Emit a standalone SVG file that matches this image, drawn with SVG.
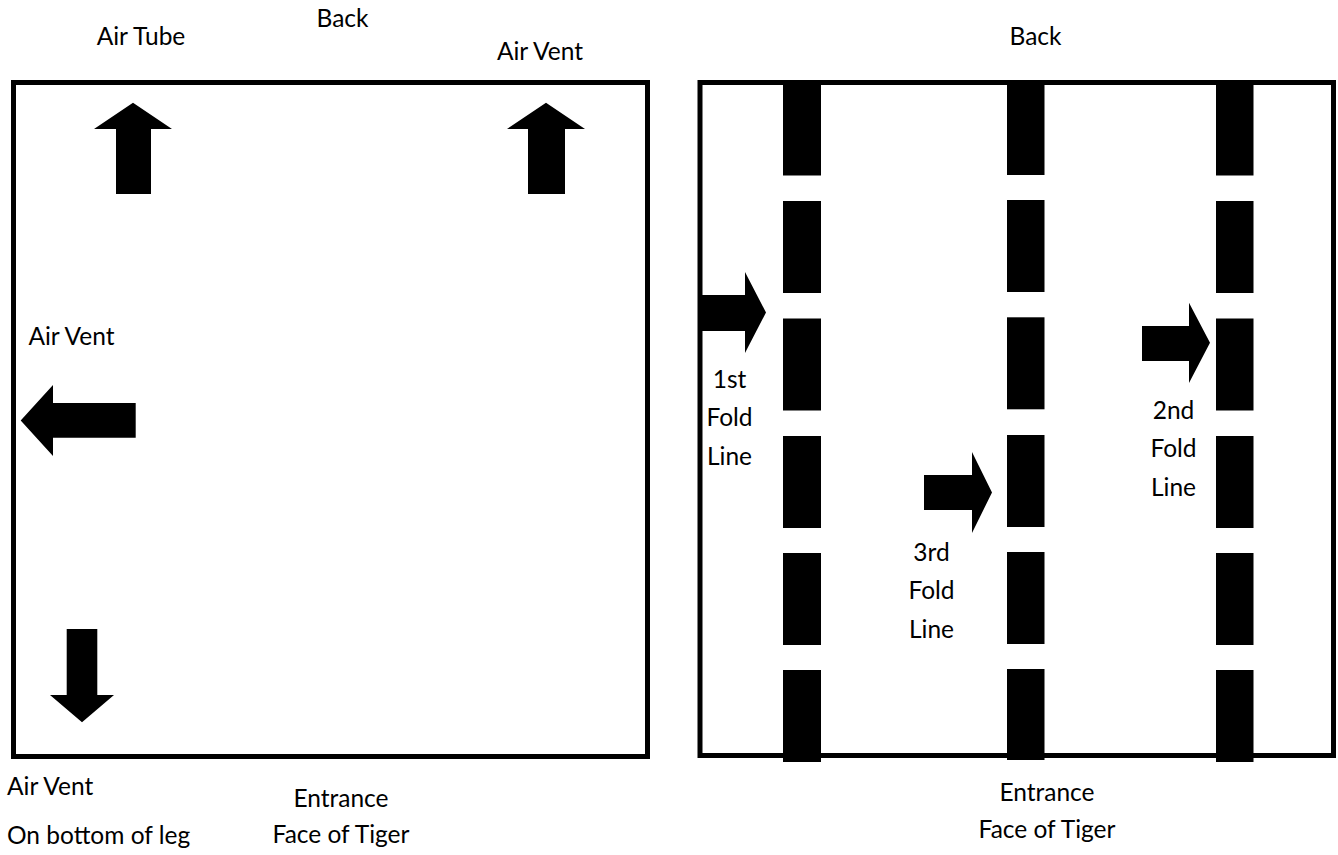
<svg xmlns="http://www.w3.org/2000/svg" width="1338" height="855" viewBox="0 0 1338 855">
<style>
.box{fill:none;stroke:#000;stroke-width:5}
.blk{fill:#000}
text{font-family:Lato,"Liberation Sans",sans-serif;font-size:24.5px;fill:#000}
.c{text-anchor:middle}
</style>
<rect width="1338" height="855" fill="#fff"/>
<g id="left-panel">
<rect class="box" x="13.5" y="82.5" width="634" height="674"/>
<text class="c" x="342.5" y="27">Back</text>
<text class="c" x="141" y="45">Air Tube</text>
<text class="c" x="540" y="60">Air Vent</text>
<text class="c" x="71.5" y="345">Air Vent</text>
<text x="7" y="795">Air Vent</text>
<text x="7" y="844">On bottom of leg</text>
<text class="c" x="341" y="807">Entrance</text>
<text class="c" x="341" y="843">Face of Tiger</text>
</g>
<g id="right-panel">
<rect class="box" x="700" y="82.5" width="633.5" height="673"/>
<text class="c" x="1035.5" y="45">Back</text>
<text class="c" x="1047" y="801">Entrance</text>
<text class="c" x="1047" y="838">Face of Tiger</text>
<text class="c" x="729.5" y="388">1st</text>
<text class="c" x="729.5" y="426">Fold</text>
<text class="c" x="729.5" y="465">Line</text>
<text class="c" x="1173.5" y="419">2nd</text>
<text class="c" x="1173.5" y="457">Fold</text>
<text class="c" x="1173.5" y="496">Line</text>
<text class="c" x="931.5" y="561">3rd</text>
<text class="c" x="931.5" y="599">Fold</text>
<text class="c" x="931.5" y="638">Line</text>
</g>
<g id="fold-line-1" class="blk">
<rect x="783" y="83.5" width="38" height="92"/>
<rect x="783" y="201" width="38" height="92"/>
<rect x="783" y="318.5" width="38" height="92"/>
<rect x="783" y="436" width="38" height="92"/>
<rect x="783" y="553" width="38" height="92"/>
<rect x="783" y="670" width="38" height="92"/>
</g>
<g id="fold-line-3" class="blk">
<rect x="1007" y="83" width="37.5" height="92"/>
<rect x="1007" y="200" width="37.5" height="92"/>
<rect x="1007" y="317.3" width="37.5" height="92"/>
<rect x="1007" y="435" width="37.5" height="92"/>
<rect x="1007" y="552" width="37.5" height="92"/>
<rect x="1007" y="669" width="37.5" height="91"/>
</g>
<g id="fold-line-2" class="blk">
<rect x="1216" y="83.5" width="37.5" height="92"/>
<rect x="1216" y="201" width="37.5" height="92"/>
<rect x="1216" y="318.5" width="37.5" height="92"/>
<rect x="1216" y="436" width="37.5" height="92"/>
<rect x="1216" y="553" width="37.5" height="92"/>
<rect x="1216" y="670" width="37.5" height="92"/>
</g>
<g id="connectors" class="blk">
<polygon id="arrow-air-tube" points="133,102.7 172,129 151,129 151,194 116,194 116,129 94,129"/>
<polygon id="arrow-air-vent-top" points="546,102.7 585,129 565,129 565,194 528,194 528,129 507,129"/>
<polygon id="arrow-air-vent-left" points="20.7,420.5 53,385 53,403 135.7,403 135.7,437.7 53,437.7 53,456"/>
<polygon id="arrow-air-vent-leg" points="82,722.3 114,695 97.3,695 97.3,629 66.7,629 66.7,695 50,695"/>
<polygon id="arrow-1st" points="766,312.5 745,353 745,331 698,331 698,295 745,295 745,272"/>
<polygon id="arrow-2nd" points="1210,342.7 1189,383 1189,361 1142,361 1142,326 1189,326 1189,302.7"/>
<polygon id="arrow-3rd" points="992,492.5 972,533 972,510 924,510 924,475 972,475 972,452"/>
</g>
</svg>
